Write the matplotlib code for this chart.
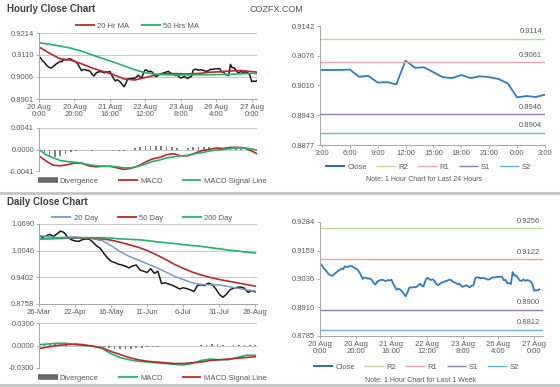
import matplotlib
matplotlib.use("Agg")
import matplotlib.pyplot as plt
from matplotlib.lines import Line2D

plt.rcParams['font.family'] = ['Liberation Sans', 'DejaVu Sans']

# ---- hourly close, last week (index 0 = 20 Aug 0:00, step 1 hour, weekend skipped)
hourly_close = [0.9103, 0.9095, 0.9082, 0.9075, 0.9064, 0.9055, 0.9050, 0.9048, 0.9056, 0.9062,
                0.9069, 0.9074, 0.9080, 0.9078, 0.9090, 0.9086, 0.9089, 0.9092, 0.9090, 0.9085,
                0.9080, 0.9076, 0.9065, 0.9050, 0.9035, 0.9041, 0.9040, 0.9036, 0.9037, 0.9030,
                0.9018, 0.9010, 0.9022, 0.9028, 0.9030, 0.9031, 0.9028, 0.9025, 0.9030, 0.9028,
                0.9032, 0.9015, 0.9000, 0.8987, 0.8992, 0.8988, 0.8980, 0.8969, 0.8959, 0.8975,
                0.8996, 0.8998, 0.8997, 0.9000, 0.8999, 0.9006, 0.9014, 0.9005, 0.9002, 0.9025,
                0.9040, 0.9036, 0.9030, 0.9033, 0.9028, 0.9015, 0.9007, 0.9012, 0.9018, 0.9021,
                0.9024, 0.9026, 0.9030, 0.9032, 0.9026, 0.9020, 0.9018, 0.9012, 0.9014, 0.9006,
                0.9000, 0.9004, 0.9007, 0.9002, 0.8998, 0.9005, 0.9007, 0.9038, 0.9042, 0.9041,
                0.9037, 0.9040, 0.9038, 0.9036, 0.9032, 0.9033, 0.9038, 0.9042, 0.9041,
                0.9044, 0.9044, 0.9044, 0.9045, 0.9029, 0.9031, 0.9016, 0.9017, 0.9012, 0.9065,
                0.9049, 0.9050, 0.9039, 0.9028, 0.9026, 0.9033, 0.9026, 0.9030, 0.9028, 0.9024,
                0.9014, 0.8983, 0.8986, 0.8984, 0.8989]
close_24h = hourly_close[99:]

hourly_ticks = ["20 Aug\n0:00", "20 Aug\n20:00", "21 Aug\n16:00", "22 Aug\n12:00",
                "23 Aug\n8:00", "26 Aug\n4:00", "27 Aug\n0:00"]
ticks_24h = ["3:00", "6:00", "9:00", "12:00", "15:00", "18:00", "21:00", "0:00", "3:00"]

ma_h_idx = [0, 6, 12, 18, 24, 30, 36, 42, 48, 54, 60, 66, 72, 78, 84, 90, 96, 102, 108, 114, 120, 123]
ma20_h = [0.9148, 0.9118, 0.9091, 0.9085, 0.9068, 0.9048, 0.9032, 0.9017, 0.8996, 0.8991, 0.9003,
          0.9015, 0.9022, 0.9021, 0.9020, 0.9022, 0.9028, 0.9030, 0.9034, 0.9036, 0.9031, 0.9028]
ma50_h = [0.9168, 0.9160, 0.9152, 0.9142, 0.9128, 0.9110, 0.9093, 0.9076, 0.9058, 0.9040, 0.9025,
          0.9019, 0.9016, 0.9015, 0.9015, 0.9016, 0.9016, 0.9017, 0.9018, 0.9020, 0.9023, 0.9021]

macd_h_idx = list(range(0, 121, 4)) + [123]
macd_h = [-0.0012, -0.0022, -0.0030, -0.0031, -0.0029, -0.0026, -0.0026, -0.0031, -0.0033, -0.0032,
          -0.0032, -0.0035, -0.0038, -0.0036, -0.0031, -0.0024, -0.0018, -0.0015, -0.0010, -0.0008,
          -0.0012, -0.0012, -0.0007, -0.0002, 0.0000, 0.0003, 0.0002, 0.0004, 0.0004, 0.0003,
          -0.0003, -0.0008]
signal_h = [0.0000, -0.0010, -0.0016, -0.0021, -0.0023, -0.0024, -0.0026, -0.0029, -0.0031, -0.0032,
            -0.0032, -0.0033, -0.0035, -0.0035, -0.0032, -0.0028, -0.0023, -0.0020, -0.0016, -0.0014,
            -0.0012, -0.0011, -0.0008, -0.0006, -0.0003, -0.0001, 0.0000, 0.0002, 0.0003, 0.0003,
            0.0001, -0.0001]
div_h_idx = list(range(0, 124, 3))
div_h = [-0.0004, -0.0010, -0.0014, -0.0015, -0.0013, -0.0008, -0.0004, -0.0002, -0.0001, -0.0001,
         -0.0002, -0.0001, 0.0000, -0.0001, -0.0002, -0.0002, -0.0003, -0.0001, 0.0002, 0.0004,
         0.0006, 0.0007, 0.0007, 0.0006, 0.0005, 0.0004, 0.0002, 0.0000, 0.0002, 0.0004,
         0.0005, 0.0005, 0.0004, 0.0003, 0.0002, 0.0001, 0.0001, 0.0001, 0.0001, 0.0000,
         -0.0002, -0.0003]

# pivot levels
levels_24h = {"R2": 0.9114, "R1": 0.9061, "S1": 0.8946, "S2": 0.8904}
levels_week = {"R2": 0.9256, "R1": 0.9122, "S1": 0.8900, "S2": 0.8812}

# ---- daily
daily_idx = list(range(0, 121, 2))
daily_close = [1.041, 1.037, 1.040, 1.044, 1.039, 1.045, 1.052, 1.048, 1.037, 1.031,
               1.028, 1.027, 1.031, 1.033, 1.032, 1.025, 1.016, 1.010, 0.998, 0.987,
               0.979, 0.976, 0.972, 0.970, 0.967, 0.963, 0.968, 0.970, 0.958, 0.955,
               0.952, 0.961, 0.950, 0.955, 0.925, 0.927, 0.924, 0.921, 0.917, 0.912,
               0.915, 0.913, 0.910, 0.906, 0.921, 0.922, 0.921, 0.926, 0.923, 0.913,
               0.900, 0.892, 0.899, 0.910, 0.914, 0.916, 0.917, 0.914, 0.904, 0.908,
               0.905]
daily_ticks = ["26-Mar", "22-Apr", "16-May", "11-Jun", "6-Jul", "31-Jul", "26-Aug"]

ma_d_idx = [0, 10, 20, 30, 35, 40, 45, 50, 55, 60, 65, 70, 75, 80, 85, 90, 95, 100, 105, 110, 115, 120]
ma20_d = [1.041, 1.036, 1.038, 1.033, 1.029, 1.017, 1.002, 0.991, 0.982, 0.973, 0.964,
          0.954, 0.943, 0.935, 0.927, 0.923, 0.922, 0.922, 0.918, 0.914, 0.910, 0.907]
ma50_d = [1.033, 1.034, 1.035, 1.035, 1.033, 1.030, 1.025, 1.019, 1.013, 1.005, 0.995,
          0.984, 0.972, 0.962, 0.953, 0.946, 0.940, 0.935, 0.931, 0.927, 0.923, 0.919]
ma200_d = [1.033, 1.035, 1.036, 1.036, 1.036, 1.035, 1.033, 1.032, 1.031, 1.029, 1.026,
           1.024, 1.022, 1.019, 1.017, 1.015, 1.012, 1.009, 1.006, 1.004, 1.001, 0.999]

macd_d_idx = list(range(0, 121, 5))
macd_d = [0.001, 0.002, 0.003, 0.003, 0.001, 0.000, -0.001, -0.004, -0.011, -0.016, -0.019,
          -0.021, -0.022, -0.023, -0.024, -0.025, -0.026, -0.024, -0.020, -0.018, -0.019,
          -0.019, -0.016, -0.013, -0.013]
signal_d = [-0.004, -0.002, 0.000, 0.001, 0.002, 0.001, -0.001, -0.003, -0.008, -0.012, -0.016,
            -0.019, -0.021, -0.022, -0.023, -0.024, -0.024, -0.023, -0.022, -0.020, -0.019,
            -0.018, -0.017, -0.016, -0.015]
div_d_idx = list(range(0, 121, 3))
div_d = [0.001, 0.002, 0.002, 0.002, 0.002, 0.001, 0.000, -0.001, -0.001, -0.001, 0.000,
         -0.001, -0.002, -0.003, -0.004, -0.0045, -0.004, -0.004, -0.003, -0.003, -0.002,
         -0.002, -0.002, -0.001, -0.001, -0.001, -0.001, -0.001, 0.000, 0.000, 0.001,
         0.001, 0.002, 0.002, 0.001, 0.000, 0.001, 0.001, 0.001, 0.001, 0.001]

RED = '#c0272d'
GREEN = '#22b36c'
LBLUE = '#7b98cb'
CLOSE_BLUE = '#2f7cbf'
GRAY = '#808080'
LEVEL_COLORS = {"R2": '#c3d69b', "R1": '#e6a5a3', "S1": '#8e7fb5', "S2": '#5fb8d0'}
TXT = '#595959'

W, H = 560, 387
fig = plt.figure(figsize=(W / 100, H / 100), dpi=100)


def box(x0, y0, x1, y1):
    return fig.add_axes([x0 / W, 1 - y1 / H, (x1 - x0) / W, (y1 - y0) / H])


def style(ax, grid=True):
    for s in ['top', 'right']:
        ax.spines[s].set_visible(False)
    for s in ['left', 'bottom']:
        ax.spines[s].set_color('#a6a6a6')
        ax.spines[s].set_linewidth(0.7)
    ax.tick_params(labelsize=5.5, colors='#a6a6a6', labelcolor=TXT, length=2, width=0.6, pad=1.5)
    if grid:
        ax.grid(axis='y', color='#c8c8c8', lw=0.7)
        ax.set_axisbelow(True)


def legend(ax, handles, labels, x, y, ncol, spacing=1.5):
    ax.legend(handles, labels, loc='center', bbox_to_anchor=(x / W, 1 - y / H),
              bbox_transform=fig.transFigure, ncol=ncol, frameon=False, fontsize=5.5,
              handlelength=2.6, handletextpad=0.3, columnspacing=spacing, labelcolor=TXT)


def ln(c, lw=1.3):
    return Line2D([], [], color=c, lw=lw, solid_capstyle='butt')


# titles, separators
fig.text(7 / W, 1 - 9 / H, "Hourly Close Chart", fontsize=7, fontweight='bold', color='#404040', va='center')
fig.text(7 / W, 1 - 202 / H, "Daily Close Chart", fontsize=7, fontweight='bold', color='#404040', va='center')
fig.text(276 / W, 1 - 10 / H, "COZFX.COM", fontsize=6.5, color='#555555', va='center', ha='center')
for yy in [193, 385]:
    fig.add_artist(Line2D([0, 1], [1 - yy / H, 1 - yy / H], color='#c8c8c8', lw=2.2,
                          transform=fig.transFigure))

# ---- hourly main
ax = box(39, 33, 257, 99)
style(ax)
ax.plot(range(len(hourly_close)), hourly_close, color='#1a1a1a', lw=1.1)
ax.plot(ma_h_idx, ma20_h, color=RED, lw=1.2)
ax.plot(ma_h_idx, ma50_h, color=GREEN, lw=1.2)
ax.set_ylim(0.8901, 0.9214)
ax.set_yticks([0.9214, 0.9110, 0.9006, 0.8901])
ax.set_yticklabels(['0.9214', '0.9110', '0.9006', '0.8901'])
ax.set_xlim(0, 123)
ax.set_xticks(range(0, 121, 20))
ax.set_xticklabels(hourly_ticks, linespacing=1.1)
legend(ax, [ln(RED), ln(GREEN)], ["20 Hr MA", "50 Hrs MA"], 137, 26, 2)

# ---- hourly macd
ax = box(39, 128, 257, 171)
style(ax)
ax.spines['bottom'].set_visible(False)
ax.bar(div_h_idx, div_h, width=0.9, color=GRAY)
ax.plot(macd_h_idx, macd_h, color=RED, lw=1.2)
ax.plot(macd_h_idx, signal_h, color=GREEN, lw=1.2)
ax.set_ylim(-0.0041, 0.0041)
ax.set_yticks([0.0041, 0.0, -0.0041])
ax.set_yticklabels(['0.0041', '0.0000', '-0.0041'])
ax.set_xlim(0, 123)
ax.set_xticks([])
legend(ax, [ln('#666666', 4), ln(RED), ln(GREEN)], ["Divergence", "MACD", "MACD Signal Line"], 152, 181, 3, 2.5)

# ---- last 24h
ax = box(320, 26, 545, 145)
style(ax, grid=False)
ax.plot(range(len(close_24h)), close_24h, color=CLOSE_BLUE, lw=1.3)
for k, v in levels_24h.items():
    ax.axhline(v, color=LEVEL_COLORS[k], lw=1.0)
    ax.annotate(f"{v:.4f}", xy=(1, v), xycoords=('axes fraction', 'data'), xytext=(-2, 2.5),
                textcoords='offset points', ha='right', va='bottom', fontsize=5.5, color=TXT)
ax.set_ylim(0.8877, 0.9142)
ax.set_yticks([0.9142, 0.9076, 0.9010, 0.8943, 0.8877])
ax.set_yticklabels(['0.9142', '0.9076', '0.9010', '0.8943', '0.8877'])
ax.set_xlim(-0.2, 24)
ax.set_xticks(range(0, 25, 3))
ax.set_xticklabels(ticks_24h)
legend(ax, [ln('#1f5f99')] + [ln(LEVEL_COLORS[k], 1.0) for k in levels_24h],
       ["Close"] + list(levels_24h), 428, 167, 5, 1.2)
fig.text(424 / W, 1 - 180 / H, "Note: 1 Hour Chart for Last 24 Hours", fontsize=5, color=TXT,
         ha='center', va='center')

# ---- daily main
ax = box(39, 224, 257, 304)
style(ax)
ax.plot(daily_idx, daily_close, color='#1a1a1a', lw=1.1)
ax.plot(ma_d_idx, ma20_d, color=LBLUE, lw=1.1)
ax.plot(ma_d_idx, ma50_d, color=RED, lw=1.2)
ax.plot(ma_d_idx, ma200_d, color=GREEN, lw=1.2)
ax.set_ylim(0.8758, 1.0690)
ax.set_yticks([1.0690, 1.0046, 0.9402, 0.8758])
ax.set_yticklabels(['1.0690', '1.0046', '0.9402', '0.8758'])
ax.set_xlim(0, 121)
ax.set_xticks(range(0, 121, 20))
ax.set_xticklabels(daily_ticks)
legend(ax, [ln(LBLUE), ln(RED), ln(GREEN)], ["20 Day", "50 Day", "200 Day"], 142, 218, 3, 2.5)

# ---- daily macd
ax = box(39, 323, 257, 368)
style(ax)
ax.spines['bottom'].set_visible(False)
ax.bar(div_d_idx, div_d, width=0.9, color=GRAY)
ax.plot(macd_d_idx, macd_d, color=GREEN, lw=1.2)
ax.plot(macd_d_idx, signal_d, color=RED, lw=1.2)
ax.set_ylim(-0.03, 0.03)
ax.set_yticks([0.03, 0.0, -0.03])
ax.set_yticklabels(['0.0300', '0.0000', '-0.0300'])
ax.set_xlim(0, 121)
ax.set_xticks([])
legend(ax, [ln('#666666', 4), ln(GREEN), ln(RED)], ["Divergence", "MACD", "MACD Signal Line"], 152, 378, 3, 2.5)

# ---- last week hourly
ax = box(320, 222, 543, 336)
style(ax, grid=False)
ax.plot(range(len(hourly_close)), hourly_close, color=CLOSE_BLUE, lw=1.3)
for k, v in levels_week.items():
    ax.axhline(v, color=LEVEL_COLORS[k], lw=1.0)
    ax.annotate(f"{v:.4f}", xy=(1, v), xycoords=('axes fraction', 'data'), xytext=(-2, 2.5),
                textcoords='offset points', ha='right', va='bottom', fontsize=5.5, color=TXT)
ax.set_ylim(0.8785, 0.9284)
ax.set_yticks([0.9284, 0.9159, 0.9036, 0.8910, 0.8785])
ax.set_yticklabels(['0.9284', '0.9159', '0.9036', '0.8910', '0.8785'])
ax.set_xlim(0, 125)
ax.set_xticks(range(0, 121, 20))
ax.set_xticklabels(hourly_ticks, linespacing=1.1)
legend(ax, [ln('#1f5f99')] + [ln(LEVEL_COLORS[k], 1.0) for k in levels_week],
       ["Close"] + list(levels_week), 416, 367, 5, 1.2)
fig.text(420 / W, 1 - 380 / H, "Note: 1 Hour Chart for Last 1 Week", fontsize=5, color=TXT,
         ha='center', va='center')

fig.savefig("out.png", dpi=100)
